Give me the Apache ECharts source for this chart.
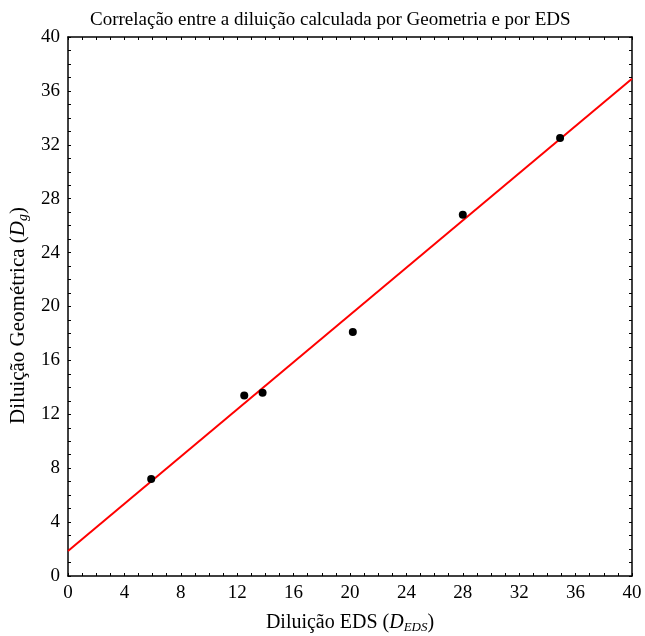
<!DOCTYPE html>
<html><head><meta charset="utf-8">
<script src="https://cdn.jsdelivr.net/npm/echarts@6/dist/echarts.min.js"></script>
<style>html,body{margin:0;padding:0;background:#fff}#c{width:645px;height:636px}</style>
</head><body><div id="c"></div>
<script>
const titleText = 'Correlação entre a diluição calculada por Geometria e por EDS';
const xValues = [5.9, 12.5, 13.8, 20.2, 28.0, 34.9];
const yValues = [7.2, 13.4, 13.6, 18.1, 26.8, 32.5];
const fitX = [0, 40];
const fitY = [1.85, 36.9];

const font = 'Liberation Serif';
const chart = echarts.init(document.getElementById('c'));
const tickFmt = v => (v % 4 === 0 ? String(v) : '');
const baseAxis = {
  type: 'value', min: 0, max: 40, interval: 1,
  axisLine: { show: true, onZero: false, lineStyle: { color: '#000', width: 1.5 } },
  axisTick: { show: true, inside: true, length: 3, lineStyle: { color: '#000' } },
  splitLine: { show: false },
  axisLabel: { show: true, formatter: tickFmt, color: '#000', fontFamily: font, fontSize: 19, showMinLabel: true, showMaxLabel: true }
};
const rich = size => ({
  n: { fontFamily: font, fontSize: size, color: '#000' },
  i: { fontFamily: font, fontSize: size, fontStyle: 'italic', color: '#000' },
  s: { fontFamily: font, fontSize: Math.round(size * 0.65), fontStyle: 'italic', color: '#000', verticalAlign: 'bottom', padding: [9, 0, 0, 0] }
});
chart.setOption({
  backgroundColor: '#fff',
  animation: false,
  title: { text: titleText, left: 85, top: 6, textStyle: { fontFamily: font, fontSize: 19, fontWeight: 'normal', color: '#000' } },
  grid: { left: 68, right: 13, top: 37, bottom: 60, outerBoundsMode: 'none', containLabel: false },
  xAxis: [
    Object.assign({}, baseAxis, {
      position: 'bottom',
      axisLabel: Object.assign({}, baseAxis.axisLabel, { margin: 8 }),
      name: '{n|Diluição EDS (}{i|D}{s|EDS}{n|)}', nameLocation: 'middle', nameGap: 36,
      nameTextStyle: { rich: rich(20) }
    }),
    Object.assign({}, baseAxis, { position: 'top', axisLabel: { show: false } })
  ],
  yAxis: [
    Object.assign({}, baseAxis, {
      position: 'left',
      axisLabel: Object.assign({}, baseAxis.axisLabel, { margin: 8 }),
      name: '{n|Diluição Geométrica (}{i|D}{s|g}{n|)}', nameLocation: 'middle', nameGap: 36, nameRotate: 90,
      nameTextStyle: { rich: rich(21), padding: [0, 18, 0, 0] }
    }),
    Object.assign({}, baseAxis, { position: 'right', axisLabel: { show: false } })
  ],
  series: [
    {
      type: 'line', data: fitX.map((x, i) => [x, fitY[i]]), showSymbol: false, symbol: 'none',
      lineStyle: { color: '#ff0000', width: 2 }, z: 2, silent: true
    },
    {
      type: 'scatter', data: xValues.map((x, i) => [x, yValues[i]]), symbol: 'circle', symbolSize: 8,
      itemStyle: { color: '#000', opacity: 1 }, z: 3
    }
  ]
});
</script></body></html>
